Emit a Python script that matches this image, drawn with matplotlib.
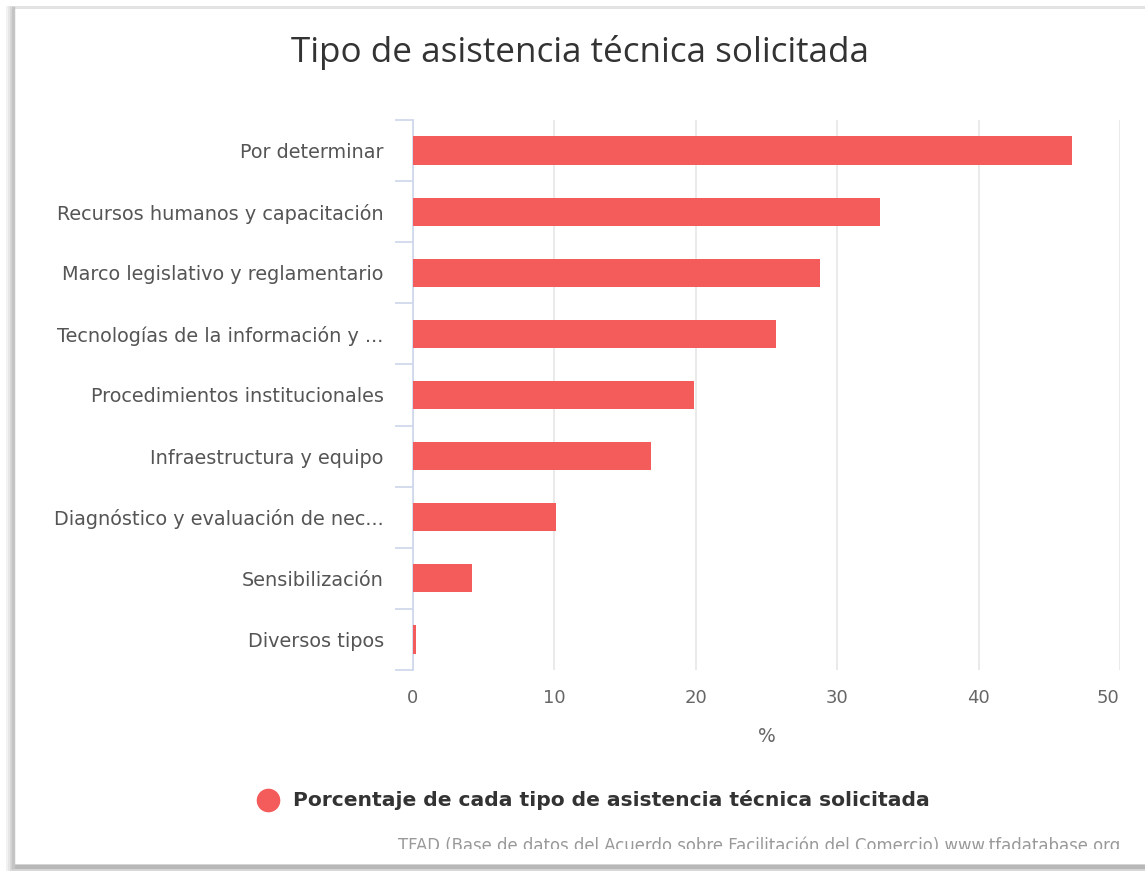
import matplotlib
matplotlib.use("Agg")
import matplotlib.pyplot as plt
import matplotlib.transforms as mtransforms
from matplotlib.patches import Rectangle
from matplotlib.ticker import FixedLocator, NullFormatter

# Requested technical assistance, share of each type (%)
categories = [
    "Por determinar",
    "Recursos humanos y capacitación",
    "Marco legislativo y reglamentario",
    "Tecnologías de la información y ...",
    "Procedimientos institucionales",
    "Infraestructura y equipo",
    "Diagnóstico y evaluación de nec...",
    "Sensibilización",
    "Diversos tipos",
]
values = [46.6, 33.0, 28.8, 25.7, 19.9, 16.8, 10.1, 4.2, 0.2]
x_ticks = [0, 10, 20, 30, 40, 50]

title = "Tipo de asistencia técnica solicitada"
series_name = "Porcentaje de cada tipo de asistencia técnica solicitada"
credits = "TFAD (Base de datos del Acuerdo sobre Facilitación del Comercio) www.tfadatabase.org"

BAR = "#f45b5b"
W, H = 1145, 871
fig = plt.figure(figsize=(W / 100, H / 100), dpi=100)
fig.patch.set_facecolor("white")


def fx(px):
    return px / W


def fy(py):
    return 1 - py / H


# card frame with a soft shadow along the left and bottom edges
for i, c in enumerate(["#f2f2f2", "#e6e6e6", "#d8d8d8"]):
    fig.add_artist(Rectangle((fx(6 + i * 2), 0), 1, fy(6),
                             transform=fig.transFigure, facecolor=c,
                             edgecolor="none", zorder=0))
fig.add_artist(Rectangle((fx(15), fy(864)), 1, fy(9) - fy(864),
                         transform=fig.transFigure, facecolor="white",
                         edgecolor="none", zorder=1))
fig.add_artist(plt.Line2D([fx(12), 1], [fy(7), fy(7)], transform=fig.transFigure,
                          color="#e4e4e4", lw=2, zorder=1))
fig.add_artist(plt.Line2D([fx(14), 1], [fy(867), fy(867)], transform=fig.transFigure,
                          color="#b8b8b8", lw=3, zorder=1))
fig.add_artist(plt.Line2D([fx(13), fx(13)], [fy(8), fy(867)], transform=fig.transFigure,
                          color="#c4c4c4", lw=2.5, zorder=1))

ax = fig.add_axes([fx(413), fy(670), fx(1120) - fx(413), fy(120) - fy(670)])
ax.set_zorder(2)
ax.patch.set_alpha(0)

n = len(categories)
pos = list(range(n))
ax.barh(pos, values, height=0.46, color=BAR, zorder=3)
ax.set_ylim(n - 0.5, -0.5)
ax.set_xlim(0, 50)

ax.set_yticks(pos)
ax.set_yticklabels(categories, fontsize=13.9, color="#555555", family="DejaVu Sans")
ax.tick_params(axis="y", which="major", length=0, pad=21)
ax.yaxis.set_minor_locator(FixedLocator([p - 0.5 for p in pos] + [n - 0.5]))
ax.yaxis.set_minor_formatter(NullFormatter())
ax.tick_params(axis="y", which="minor", length=13, width=1.2, color="#ccd6eb")

ax.set_xticks(x_ticks)
ax.set_xticklabels([str(t) for t in x_ticks], fontsize=13, color="#666666")
ax.tick_params(axis="x", length=0, pad=14)
# keep the last label inside the plot edge
last = ax.get_xticklabels()[-1]
last.set_transform(last.get_transform() +
                   mtransforms.ScaledTranslation(-12 / 100, 0, fig.dpi_scale_trans))
ax.grid(axis="x", color="#e6e6e6", lw=1.2, zorder=0)
ax.set_xlabel("%", fontsize=13.5, color="#666666", labelpad=14)

for s in ["top", "right", "bottom"]:
    ax.spines[s].set_visible(False)
ax.spines["left"].set_color("#ccd6eb")
ax.spines["left"].set_linewidth(1.2)

fig.text(fx(580), fy(52), title, ha="center", va="center", fontsize=25.2,
         color="#333333", family="Open Sans", zorder=3)

fig.add_artist(plt.Line2D([fx(268)], [fy(800)], marker="o", markersize=16,
                          color=BAR, transform=fig.transFigure, zorder=3))
fig.text(fx(293), fy(800), series_name, ha="left", va="center", fontsize=14.6,
         fontweight="bold", color="#333333", family="DejaVu Sans", zorder=3)

# credits line, partly hidden behind the lower edge of the card
cred = fig.text(fx(1120), fy(846), credits, ha="right", va="center", fontsize=11.9,
                color="#999999", family="DejaVu Sans", zorder=3)
clip = Rectangle((0, fy(849)), 1, 1, transform=fig.transFigure)
cred.set_clip_path(clip)

fig.savefig("out.png", dpi=100)
